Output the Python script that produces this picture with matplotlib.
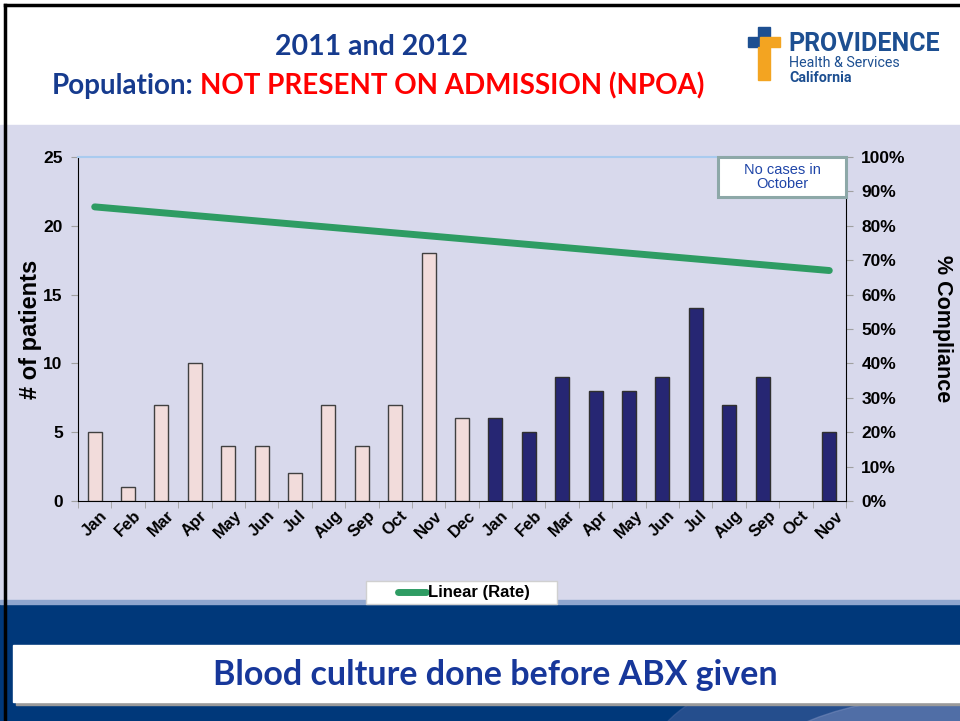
import numpy as np
import matplotlib.pyplot as plt
from matplotlib.patches import Rectangle, Ellipse
from matplotlib.lines import Line2D

# data
months_2011 = ['Jan', 'Feb', 'Mar', 'Apr', 'May', 'Jun', 'Jul', 'Aug', 'Sep', 'Oct', 'Nov', 'Dec']
months_2012 = ['Jan', 'Feb', 'Mar', 'Apr', 'May', 'Jun', 'Jul', 'Aug', 'Sep', 'Oct', 'Nov']
patients_2011 = [5, 1, 7, 10, 4, 4, 2, 7, 4, 7, 18, 6]
patients_2012 = [6, 5, 9, 8, 8, 9, 14, 7, 9, None, 5]   # no cases in October
trend_rate = [0.855, 0.67]   # linear (rate) trend, first and last month

W, H = 960, 721
fig = plt.figure(figsize=(W / 100, H / 100), dpi=100)

# slide background drawn in pixel coords
bg = fig.add_axes([0, 0, 1, 1], zorder=0)
bg.set_xlim(0, W)
bg.set_ylim(H, 0)
bg.axis('off')
bg.add_patch(Rectangle((0, 0), W, 125, color='white'))
bg.add_patch(Rectangle((0, 125), W, 478, color='#D8D9EC'))
bg.add_patch(Rectangle((0, 603), W, 118, color='#00387A'))
bg.add_patch(Rectangle((0, 600), W, 4, color='#8FA6CF'))
bg.add_patch(Ellipse((930, 760), 560, 220, color='#3F5E9A', alpha=0.6))
bg.add_patch(Ellipse((960, 780), 420, 170, color='#7C8FBF', alpha=0.5))
bg.add_patch(Rectangle((16, 648), 950, 57, color='#9A9A9A'))
bg.add_patch(Rectangle((13, 645), 950, 57, color='white'))
bg.plot([5, 5], [5, H], color='black', lw=2.5)
bg.plot([5, W], [5, 5], color='black', lw=2.5)

title_font = 'Lato'
bg.text(371, 47, '2011 and 2012', ha='center', va='center', fontsize=20.5,
        fontweight='bold', color='#163B8E', family=title_font)
bg.text(193, 86, 'Population:', ha='right', va='center', fontsize=20,
        fontweight='bold', color='#163B8E', family=title_font)
bg.text(200, 86, 'NOT PRESENT ON ADMISSION (NPOA)', ha='left', va='center',
        fontsize=20, fontweight='bold', color='#FF0000', family=title_font)
bg.text(495, 675, 'Blood culture done before ABX given', ha='center', va='center',
        fontsize=24.5, fontweight='bold', color='#17379A', family=title_font)

# logo
bg.add_patch(Rectangle((758, 27), 12, 12, color='#1D4F91'))
bg.add_patch(Rectangle((748, 37), 12, 10, color='#1D4F91'))
bg.add_patch(Rectangle((760, 37), 20, 10, color='#F3A421'))
bg.add_patch(Rectangle((758, 47), 12, 33, color='#F3A421'))
bg.text(788, 44, 'PROVIDENCE', ha='left', va='center', fontsize=18,
        fontweight='bold', color='#1D4F91', family='Roboto')
bg.text(789, 63, 'Health & Services', ha='left', va='center', fontsize=10.3,
        color='#1D4F91', family='Roboto')
bg.text(789, 78, 'California', ha='left', va='center', fontsize=10.3,
        fontweight='bold', color='#1D4F91', family='Roboto')

# chart
plt.rcParams['font.family'] = ['Liberation Sans', 'DejaVu Sans']
labels = months_2011 + months_2012
x = np.arange(len(labels))
ax = fig.add_axes([78 / W, 1 - 501 / H, 768 / W, 344 / H], zorder=2)
ax.set_facecolor('none')
ax.bar(x[:12], patients_2011, width=0.42, color='#F2DCDB', edgecolor='#404040',
       linewidth=1, zorder=3)
x12 = [xi for xi, v in zip(x[12:], patients_2012) if v is not None]
v12 = [v for v in patients_2012 if v is not None]
ax.bar(x12, v12, width=0.42, color='#262673', edgecolor='#303030', linewidth=1, zorder=3)
ax.set_xlim(-0.5, len(labels) - 0.5)
ax.set_ylim(0, 25)
ax.set_yticks([0, 5, 10, 15, 20, 25])
ax.set_xticks(x)
ax.set_xticklabels(labels, rotation=45, ha='center', va='top',
                   fontsize=12, fontweight='bold')
ax.set_xticks(np.arange(-0.5, len(labels), 1), minor=True)
ax.tick_params(axis='x', which='major', length=0, pad=5)
ax.tick_params(axis='x', which='minor', length=5, color='#A0A0A0')
ax.tick_params(axis='y', length=5, color='#A0A0A0', labelsize=12.5, pad=6)
for t in ax.get_yticklabels():
    t.set_fontweight('bold')
ax.set_ylabel('# of patients', fontsize=17, fontweight='bold', labelpad=1)
ax.spines['top'].set_color('#A9CBEF')
ax.spines['top'].set_linewidth(1.5)
ax.spines['right'].set_visible(False)

ax2 = ax.twinx()
ax2.set_ylim(0, 1)
ax2.set_yticks(np.arange(0, 1.01, 0.1))
ax2.set_yticklabels(['%d%%' % round(v * 100) for v in np.arange(0, 1.01, 0.1)],
                    fontsize=12.5, fontweight='bold')
ax2.tick_params(axis='y', length=5, color='#A0A0A0', pad=6)
ax2.spines['top'].set_visible(False)
ax2.spines['left'].set_visible(False)
ax2.spines['bottom'].set_visible(False)
ax2.plot([x[0], x[-1]], trend_rate, color='#2E9C63', lw=5, solid_capstyle='round', zorder=4)
ax2.set_ylabel('% Compliance', fontsize=15.5, fontweight='bold', rotation=-90, labelpad=34)

# "no cases" note box
ax2.add_patch(Rectangle((640 / 768, 1 - 40 / 344), 128 / 768, 40 / 344,
                        transform=ax2.transAxes, facecolor='white', edgecolor='#8DA8A8',
                        lw=2.2, zorder=6, clip_on=False))
ax2.text(1 - 64 / 768, 1 - 20 / 344, 'No cases in\nOctober', transform=ax2.transAxes,
         ha='center', va='center', fontsize=10.5, color='#1F45A8', zorder=7,
         linespacing=1.05)

# legend box
bg.add_patch(Rectangle((366, 581), 191, 23, facecolor='white', edgecolor='#D0D0D0', zorder=3))
bg.add_line(Line2D([398, 426], [592, 592], color='#2E9C63', lw=5,
                   solid_capstyle='round', zorder=4))
bg.text(428, 592, 'Linear (Rate)', ha='left', va='center', fontsize=12,
        fontweight='bold', family='Liberation Sans', zorder=4)

fig.savefig('out.png', dpi=100)
